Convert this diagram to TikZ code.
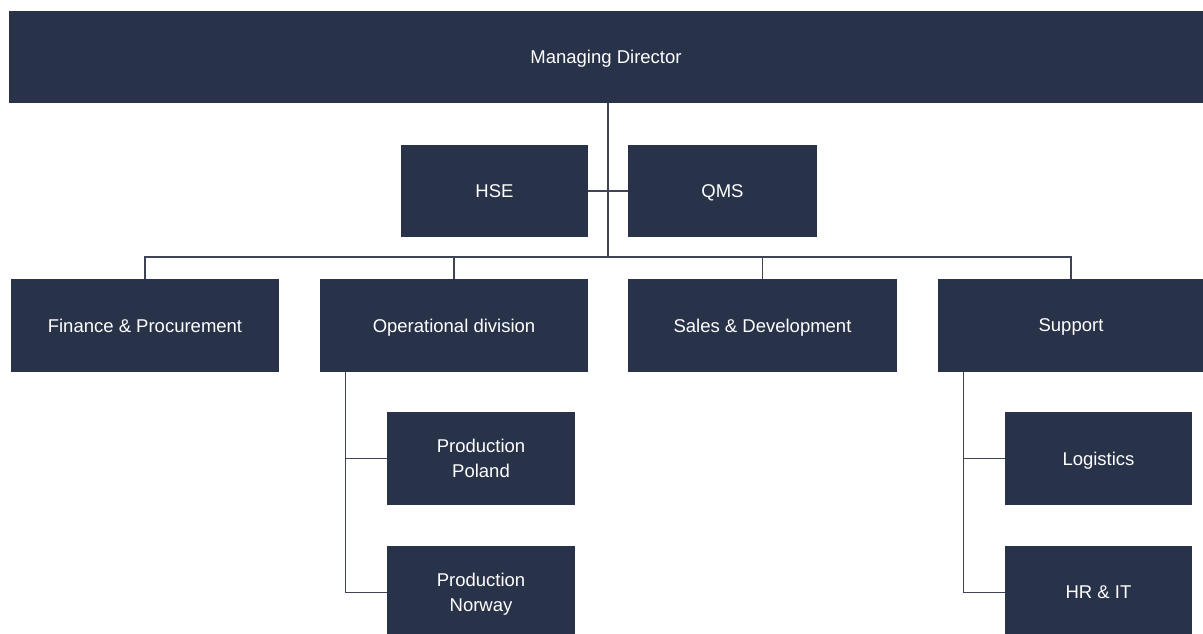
\documentclass[tikz,border=0pt]{standalone}
\usepackage{fontspec}
\setmainfont{Liberation Sans}
\definecolor{boxblue}{HTML}{283249}
\definecolor{linegray}{HTML}{3E4455}
\tikzset{
	unit/.style={shape=rectangle, fill=boxblue, text=white, inner sep=0pt, align=center,
		text depth=0pt, font=\fontsize{18.5}{25}\selectfont},
	link/.style={draw=linegray, line width=1.3pt}
}
\begin{document}
\begin{tikzpicture}[x=1pt, y=-1pt]
	\useasboundingbox (0,0) rectangle (1203,634);

	\node[unit, minimum width=1194, minimum height=92] (md)  at (606,57)    {Managing Director};
	\node[unit, minimum width=187,  minimum height=92] (hse) at (494.5,191) {HSE};
	\node[unit, minimum width=189,  minimum height=92] (qms) at (722.5,191) {QMS};

	\node[unit, minimum width=268, minimum height=93] (fin) at (145,325.5)  {Finance \& Procurement};
	\node[unit, minimum width=268, minimum height=93] (ops) at (454,325.5)  {Operational division};
	\node[unit, minimum width=269, minimum height=93] (sal) at (762.5,325.5){Sales \& Development};
	\node[unit, minimum width=266, minimum height=93] (sup) at (1071,325.5) {Support};

	\node[unit, minimum width=188, minimum height=93] (pp)  at (481,458.5)  {Production\\Poland};
	\node[unit, minimum width=188, minimum height=93] (pn)  at (481,592.5)  {Production\\Norway};
	\node[unit, minimum width=187, minimum height=93] (log) at (1098.5,458.5) {Logistics};
	\node[unit, minimum width=187, minimum height=93] (hr)  at (1098.5,592.5) {HR \& IT};

	\coordinate (bus) at (608,257);

	\path [link] (md.south -| bus) edge (bus);
	\path [link] (hse.east) edge (qms.west);
	\draw [link] (fin.north) |- (bus) -| (sup.north);
	\draw [link] (ops.north) -- (ops.north |- bus);
	\draw [link] (sal.north) -- (sal.north |- bus);

	\draw [link] ([xshift=26]ops.south west) |- (pp.west);
	\draw [link] ([xshift=26]ops.south west) |- (pn.west);
	\draw [link] ([xshift=26]sup.south west) |- (log.west);
	\draw [link] ([xshift=26]sup.south west) |- (hr.west);
\end{tikzpicture}
\end{document}
